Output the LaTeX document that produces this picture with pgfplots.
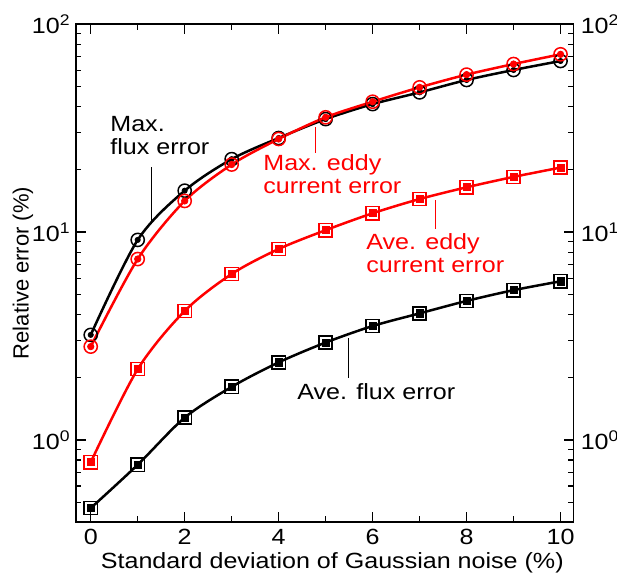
\documentclass[border=0pt]{standalone}
\usepackage{pgfplots}
\pgfplotsset{compat=1.18}
\usepackage{pgfplotstable}
\usepackage{fontspec}
\setmainfont{Liberation Sans}[FakeStretch=1.14]
\newfontfamily\ylfont{Liberation Sans}

\definecolor{pred}{RGB}{255,0,0}
\newcommand{\lbl}{\fontsize{11}{11.65}\selectfont}

% noise (%)  max flux  max eddy  ave flux  ave eddy
\pgfplotstableread{
x   maxflux  maxeddy  aveflux  aveeddy
0   3.20     2.81     0.470    0.781
1   9.16     7.41     0.760    2.19
2   15.8     14.1     1.28     4.17
3   22.4     21.1     1.80     6.28
4   28.3     28.0     2.36     8.28
5   34.9     35.6     2.94     10.2
6   41.2     42.3     3.53     12.3
7   46.9     49.6     4.06     14.4
8   53.8     57.1     4.66     16.4
9   60.1     64.2     5.25     18.4
10  66.4     71.5     5.79     20.4
}\errdata

\pgfplotsset{
  linemk/.style={line width=1.25pt, smooth, mark size=3.3pt,
    mark options={solid, fill=white, line width=0.75pt}},
  dotmk/.style={only marks, mark size=1.7pt, forget plot},
}

\begin{document}
\begin{tikzpicture}
\useasboundingbox (-37.85pt,-32pt) rectangle (270.65pt,261pt);
\begin{axis}[
  scale only axis, width=249pt, height=249pt,
  at={(0,0)}, anchor=south west,
  xmin=-0.32, xmax=10.28,
  ymode=log, ymin=0.403, ymax=100,
  xtick={0,2,...,10}, minor xtick={1,3,...,9},
  ytick={1,10,100},
  yticklabels={10\textsuperscript{0},10\textsuperscript{1},10\textsuperscript{2}},
  minor ytick={0.5,0.6,0.7,0.8,0.9,2,3,4,5,6,7,8,9,20,30,40,50,60,70,80,90},
  tick align=inside,
  major tick length=5pt, minor tick length=2.8pt,
  tick style={black, line width=0.6pt},
  axis line style={line width=0.8pt},
  tick label style={font=\lbl},
  yticklabel style={xshift=1pt},
  xlabel style={font=\lbl, xshift=3.8pt},
  ylabel style={font=\ylfont\lbl},
  /pgf/number format/assume math mode=true,
  xlabel={Standard deviation of Gaussian noise (\%)},
  ylabel={Relative error (\%)},
  ylabel shift=-7.5pt,
  xlabel shift=-3pt,
  clip=false,
]
  % black series
  \addplot[black, linemk, mark=square] table[x=x, y=aveflux] {\errdata};
  \addplot[black, dotmk, mark=square*, mark size=1.8pt] table[x=x, y=aveflux] {\errdata};
  \addplot[black, linemk, mark=o] table[x=x, y=maxflux] {\errdata};
  \addplot[black, dotmk, mark=*, mark size=1.3pt] table[x=x, y=maxflux] {\errdata};
  % red series
  \addplot[pred, linemk, mark=square] table[x=x, y=aveeddy] {\errdata};
  \addplot[pred, dotmk, mark=square*, mark size=1.8pt] table[x=x, y=aveeddy] {\errdata};
  \addplot[pred, linemk, mark=o] table[x=x, y=maxeddy] {\errdata};
  \addplot[pred, dotmk, mark=*, mark size=1.6pt] table[x=x, y=maxeddy] {\errdata};

  % annotations
  \node[anchor=north west, inner sep=0pt, align=left, font=\lbl] at (axis cs:0.41,36.1) {Max.\\flux error};
  \draw[line width=0.5pt] (axis cs:1.283,20.5) -- (axis cs:1.283,11.2);
  \node[anchor=north west, inner sep=0pt, align=left, font=\lbl, text=pred] at (axis cs:3.666,23.7) {Max. eddy\\current error};
  \draw[pred, line width=0.5pt] (axis cs:4.794,24.0) -- (axis cs:4.794,32.0);
  \node[anchor=north west, inner sep=0pt, align=left, font=\lbl, text=pred] at (axis cs:5.857,9.89) {Ave. eddy\\current error};
  \draw[pred, line width=0.5pt] (axis cs:7.336,10.34) -- (axis cs:7.336,14.3);
  \node[anchor=north west, inner sep=0pt, align=left, font=\lbl] at (axis cs:4.389,1.88) {Ave. flux error};
  \draw[line width=0.5pt] (axis cs:5.496,1.99) -- (axis cs:5.496,3.09);
\end{axis}
% second axis only for the tick labels on the right
\begin{axis}[
  scale only axis, width=249pt, height=249pt,
  at={(0,0)}, anchor=south west,
  xmin=-0.32, xmax=10.28,
  ymode=log, ymin=0.403, ymax=100,
  xtick={0,2,...,10}, minor xtick={1,3,...,9}, xticklabels={},
  ytick={1,10,100},
  yticklabels={10\textsuperscript{0},10\textsuperscript{1},10\textsuperscript{2}},
  minor ytick={0.5,0.6,0.7,0.8,0.9,2,3,4,5,6,7,8,9,20,30,40,50,60,70,80,90},
  tick align=inside,
  major tick length=5pt, minor tick length=2.8pt,
  tick style={black, line width=0.6pt},
  axis line style={line width=0.8pt},
  tick label style={font=\lbl},
  yticklabel pos=right,
]
\end{axis}
\end{tikzpicture}
\end{document}
